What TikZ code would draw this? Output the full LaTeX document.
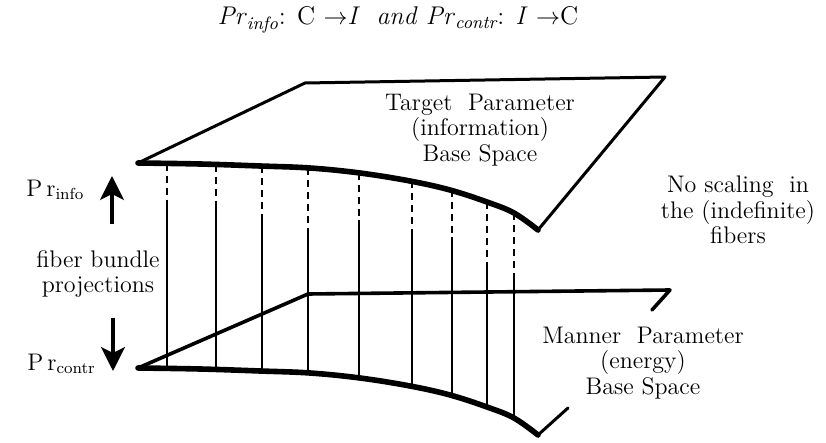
\documentclass[tikz,border=0pt]{standalone}
\usepackage{amsmath,amssymb}
\usetikzlibrary{arrows.meta}
\tikzset{
  sheet/.style={line width=1.5pt,line join=round,line cap=round},
  front/.style={line width=2.8pt,line cap=round},
  fiber/.style={line width=0.8pt},
  hidden/.style={fiber,dash pattern=on 3.5pt off 2.5pt},
  lbl/.style={font=\fontsize{12}{12.8}\selectfont,align=center,inner sep=0pt},
}

\begin{document}
\begin{tikzpicture}[x=0.5pt,y=-0.5pt,>={Stealth[length=12pt,width=12pt,inset=3pt]}]
\useasboundingbox (0,0) rectangle (826,443);
% ---------- title ----------
\node[font=\fontsize{12.8}{14}\selectfont,inner sep=0pt] (title) at (398,20)
  {\textit{Pr}$_{\textit{info}}$: C $\rightarrow$\textit{I} \ \textit{and} \textit{Pr}$_{\textit{contr}}$: \textit{I} $\rightarrow$C};
% ---------- top sheet (information) ----------
\coordinate (tA) at (138,163);
\coordinate (tB) at (305,83);
\coordinate (tC) at (665,77);
\coordinate (tD) at (538,230);
\draw[sheet] (tD) -- (tC) -- (tB) -- (tA);
\draw[front] plot[smooth,tension=0.6] coordinates {(138,163) (200,164) (260,166) (310,168) (360,173) (410,181) (450,190) (487,202) (514,213) (538,230)};
% ---------- bottom sheet (energy) ----------
\coordinate (bA) at (138,368);
\coordinate (bB) at (308,294);
\coordinate (bC) at (670,290);
\coordinate (bC') at (652,310);
\coordinate (bD) at (538,435);
\coordinate (bD') at (568,408);
\draw[sheet,line width=1.8pt] (bA) -- (bB) -- (bC) -- (bC');
\draw[sheet] (bD) -- (bD');
\begin{scope}[shift={(0,205)}]
\draw[front] plot[smooth,tension=0.6] coordinates {(138,163) (200,164) (260,166) (310,168) (360,173) (410,181) (450,190) (487,202) (514,213) (538,230)};
\end{scope}
% ---------- fibers ----------
\foreach \x/\yt/\yd in {167/164/200,216/165/207,262/166/217,308/168/230,359/173/220,412/181/233,452/190/237,487/202/267,514/213/277}{
  \draw[hidden] (\x,\yt) -- (\x,\yd);
  \draw[fiber] (\x,\yd) -- (\x,{\yt+205});
}
% ---------- labels ----------
\node[lbl] (target) at (480,130) {Target\ \ Parameter\\(information)\\Base Space};
\node[lbl] (noscale) at (738,210) {No scaling\ \ in\\the (indefinite)\\fibers};
\node[lbl] (manner) at (643,363) {Manner\ \ Parameter\\(energy)\\Base Space};
\node[lbl] (bundle) at (98,274) {fiber bundle\\projections};
\node[lbl,anchor=west] (prinfo) at (26,190) {P\,r$_{\text{info}}$};
\node[lbl,anchor=west] (prcontr) at (27,364) {P\,r$_{\text{contr}}$};
% ---------- projection arrows ----------
\coordinate (upS) at (112,224);
\coordinate (upE) at (112,176);
\coordinate (dnS) at (113,318);
\coordinate (dnE) at (113,371);
\draw[->,line width=1.6pt] (upS) -- (upE);
\draw[->,line width=1.6pt] (dnS) -- (dnE);
\end{tikzpicture}
\end{document}
